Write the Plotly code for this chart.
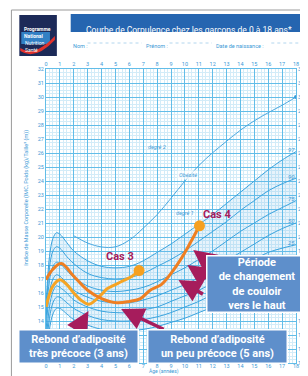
import plotly.graph_objects as go

# ---------------- data ----------------
ages = [0, 0.25, 0.5, 0.75, 1, 1.5, 2, 3, 4, 5, 6, 7, 8, 9, 10, 11, 12, 13, 14, 15, 16, 17, 18]
p3  = [10.9, 13.4, 14.5, 14.9, 14.9, 14.5, 14.1, 13.7, 13.4, 13.3, 13.3, 13.4, 13.6, 13.9, 14.2, 14.6, 15.0, 15.5, 16.0, 16.4, 16.8, 17.0, 17.2]
p10 = [11.6, 14.2, 15.3, 15.7, 15.7, 15.3, 14.9, 14.4, 14.1, 14.0, 14.0, 14.1, 14.3, 14.6, 15.0, 15.4, 15.9, 16.4, 16.9, 17.4, 17.8, 18.1, 18.3]
p25 = [12.3, 15.0, 16.1, 16.5, 16.4, 16.0, 15.5, 15.0, 14.7, 14.6, 14.6, 14.8, 15.0, 15.4, 15.8, 16.2, 16.7, 17.3, 17.9, 18.4, 18.9, 19.2, 19.45]
p50 = [13.2, 16.0, 17.0, 17.3, 17.2, 16.7, 16.2, 15.7, 15.4, 15.3, 15.3, 15.5, 15.8, 16.2, 16.6, 17.1, 17.7, 18.3, 18.9, 19.5, 20.1, 20.6, 21.0]
p75 = [14.0, 16.9, 17.9, 18.2, 18.1, 17.6, 17.1, 16.5, 16.2, 16.1, 16.2, 16.4, 16.8, 17.3, 17.8, 18.4, 19.0, 19.7, 20.4, 21.0, 21.6, 22.1, 22.6]
p90 = [14.5, 17.8, 19.0, 19.3, 19.2, 18.6, 18.1, 17.4, 17.1, 17.0, 17.1, 17.4, 17.9, 18.4, 19.0, 19.7, 20.4, 21.1, 21.9, 22.6, 23.3, 23.8, 24.2]
p97 = [15.0, 18.6, 19.9, 20.3, 20.2, 19.6, 19.0, 18.3, 17.9, 17.8, 17.9, 18.3, 18.9, 19.5, 20.2, 20.9, 21.6, 22.4, 23.2, 24.0, 24.8, 25.5, 26.1]
percentile_names = ["3", "10", "25", "50", "75", "90", "97"]

iotf_ages = [2, 3, 4, 5, 6, 7, 8, 9, 10, 11, 12, 13, 14, 15, 16, 17, 18]
iotf30 = [20.09, 19.57, 19.29, 19.30, 19.78, 20.63, 21.60, 22.77, 24.00, 25.10, 26.02, 26.84, 27.63, 28.30, 28.88, 29.41, 30.00]

cas3_ages = [0, 0.5, 1.0, 1.5, 2, 2.5, 3.1, 4, 4.4, 5, 5.6, 6.2, 6.7]
cas3_bmi  = [15.0, 16.5, 16.95, 16.6, 16.0, 15.5, 15.2, 15.9, 16.3, 16.6, 16.9, 17.2, 17.6]
cas4_ages = [0, 0.5, 1.1, 2, 3, 4, 5.1, 6, 6.8, 7.5, 8.3, 9, 9.7, 10.4, 11.05]
cas4_bmi  = [16.95, 17.7, 18.1, 17.2, 16.2, 15.6, 15.3, 15.4, 15.6, 16.2, 16.6, 17.4, 18.4, 19.6, 20.8]

age_ticks = list(range(0, 19))
bmi_ticks = list(range(11, 33))
left_hidden = {11, 12, 13}          # covered by the first text box
right_hidden = {15, 16, 17, 18}     # covered by the right text box

# ---------------- layout geometry ----------------
W, H = 308, 376
L, R, T, B = 38, 291, 61, 355

def px(x):
    return (x - L) / (R - L)

def py(y):
    return (B - y) / (B - T)

BLUE = "#3d9ad6"
GRID = "#62bde8"
MINOR = "#d3ecf8"
CRIMSON = "#a61c5c"
BOXBLUE = "#5e8fcb"

fig = go.Figure()

# percentile bands
series = [p3, p10, p25, p50, p75, p90, p97]
for i, (name, vals) in enumerate(zip(percentile_names, series)):
    fig.add_trace(go.Scatter(
        x=ages, y=vals, mode="lines", line=dict(color="#3aa3de", width=1.0, shape="spline"),
        fill=None if i == 0 else "tonexty", fillcolor="rgba(110,185,232,0.17)",
        hoverinfo="skip", showlegend=False))

fig.add_trace(go.Scatter(x=iotf_ages, y=iotf30, mode="lines",
                         line=dict(color="#4aa8e0", width=1.0, shape="spline"),
                         showlegend=False, hoverinfo="skip"))
fig.add_trace(go.Scatter(x=[iotf_ages[-1]], y=[iotf30[-1]], mode="markers",
                         marker=dict(color="#3a9ad9", size=4), showlegend=False))

# case curves
fig.add_trace(go.Scatter(x=cas3_ages, y=cas3_bmi, mode="lines",
                         line=dict(color="#f6a424", width=3, shape="spline"), showlegend=False))
fig.add_trace(go.Scatter(x=cas4_ages, y=cas4_bmi, mode="lines",
                         line=dict(color="#ef7f22", width=3, shape="spline"), showlegend=False))
fig.add_trace(go.Scatter(x=[cas3_ages[-1], cas4_ages[-1]], y=[cas3_bmi[-1], cas4_bmi[-1]],
                         mode="markers", marker=dict(color="#f6a020", size=11), showlegend=False))

# top / right duplicate axes for tick labels
fig.add_trace(go.Scatter(x=[0, 18], y=[11, 32], xaxis="x2", yaxis="y2", mode="markers",
                         marker=dict(opacity=0), showlegend=False, hoverinfo="skip"))

tickfont = dict(size=5.5, color=BLUE, family="Roboto")
fig.update_layout(
    width=W, height=H, margin=dict(l=L, r=W - R, t=T, b=H - B),
    paper_bgcolor="white", plot_bgcolor="white",
    xaxis=dict(range=[0, 18], tickvals=age_ticks, ticktext=[str(a) for a in age_ticks],
               showgrid=True, gridcolor=GRID, gridwidth=1, zeroline=False,
               minor=dict(dtick=0.25, showgrid=True, gridcolor=MINOR, gridwidth=0.6),
               tickfont=tickfont, ticks="", showline=True, linecolor=GRID, mirror=True,
               ticklabelstandoff=-3),
    yaxis=dict(range=[11, 32], tickvals=bmi_ticks,
               ticktext=["" if b in left_hidden else str(b) for b in bmi_ticks],
               showgrid=True, gridcolor=GRID, gridwidth=1, zeroline=False,
               minor=dict(dtick=0.25, showgrid=True, gridcolor=MINOR, gridwidth=0.6),
               tickfont=tickfont, ticks="", showline=True, linecolor=GRID, mirror=True),
    xaxis2=dict(range=[0, 18], overlaying="x", side="top", tickvals=age_ticks,
                ticktext=[str(a) for a in age_ticks], showgrid=False, zeroline=False,
                tickfont=tickfont, ticks="", ticklabelstandoff=1),
    yaxis2=dict(range=[11, 32], overlaying="y", side="right", tickvals=bmi_ticks,
                ticktext=["" if b in right_hidden else str(b) for b in bmi_ticks],
                showgrid=False, zeroline=False, tickfont=tickfont, ticks="", ticklabelstandoff=1),
    showlegend=False,
)

shapes = []
ann = []

# sheet border and gray band at bottom
shapes.append(dict(type="rect", xref="paper", yref="paper", x0=px(0), x1=px(W), y0=py(376), y1=py(374),
                   fillcolor="#e6e6e6", line=dict(width=0), layer="below"))
shapes.append(dict(type="rect", xref="paper", yref="paper", x0=px(3), x1=px(306), y0=py(374), y1=py(2),
                   fillcolor="rgba(0,0,0,0)", line=dict(color="#9a9a9a", width=1)))

# header title bar
shapes.append(dict(type="rect", xref="paper", yref="paper", x0=px(63), x1=px(299), y0=py(24), y1=py(6),
                   fillcolor="#2565b0", line=dict(width=0)))
ann.append(dict(text="Courbe de Corpulence chez les garçons de 0 à 18 ans*", xref="paper", yref="paper",
                x=px(183), y=py(15), showarrow=False, font=dict(size=8.5, color="white", family="Roboto")))
# name line
for label, x0 in [("Nom :", 63), ("Prénom :", 137), ("Date de naissance :", 208)]:
    ann.append(dict(text=label, xref="paper", yref="paper", x=px(x0), y=py(33), xanchor="left",
                    showarrow=False, font=dict(size=5.5, color=BLUE, family="Roboto")))
for x0, x1 in [(80, 135), (163, 206), (266, 300)]:
    shapes.append(dict(type="line", xref="paper", yref="paper", x0=px(x0), x1=px(x1), y0=py(35), y1=py(35),
                       line=dict(color="#9fcbea", width=0.8, dash="dot")))

# logo
shapes.append(dict(type="rect", xref="paper", yref="paper", x0=px(11), x1=px(49), y0=py(48), y1=py(7),
                   fillcolor="#1c2a58", line=dict(width=0)))
shapes.append(dict(type="rect", xref="paper", yref="paper", x0=px(13), x1=px(42), y0=py(36), y1=py(24),
                   fillcolor="#3280c4", line=dict(width=0)))
shapes.append(dict(type="path", xref="paper", yref="paper",
                   path=f"M {px(12)},{py(40)} Q {px(26)},{py(50)} {px(47)},{py(28)} L {px(47)},{py(32)} Q {px(27)},{py(53)} {px(12)},{py(43)} Z",
                   fillcolor="#e1322c", line=dict(width=0)))
ann.append(dict(text="<b>Programme<br>National</b>", xref="paper", yref="paper", x=px(14), y=py(16), xanchor="left",
                showarrow=False, align="left", font=dict(size=5, color="white", family="Roboto")))
ann.append(dict(text="Nutrition<br>Santé", xref="paper", yref="paper", x=px(15), y=py(30), xanchor="left",
                showarrow=False, align="left", font=dict(size=5, color="white", family="Roboto")))

# axis titles
ann.append(dict(text="Indice de Masse Corporelle (IMC, Poids (kg)/Taille² (m))", xref="paper", yref="paper",
                x=px(12), y=py(190), textangle=-90, showarrow=False,
                font=dict(size=5.5, color=BLUE, family="Roboto")))
ann.append(dict(text="Âge (années)", xref="paper", yref="paper", x=px(157), y=py(369.5), showarrow=False,
                font=dict(size=5, color=BLUE, family="Roboto")))

# curve labels
for name, vals in zip(percentile_names, series):
    if name in ("25", "50", "75", "90", "97"):
        ann.append(dict(text=f"<i>{name}</i>", x=17.7, y=vals[-1] + 0.15, showarrow=False,
                        font=dict(size=6, color=BLUE, family="Roboto")))
ann.append(dict(text="<i>degré 2</i>", x=8.0, y=26.4, showarrow=False, font=dict(size=5.5, color=BLUE, family="Roboto")))
ann.append(dict(text="<i>Obésité</i>", x=10.25, y=24.45, showarrow=False, bgcolor="rgba(255,255,255,0.7)",
                font=dict(size=5.5, color=BLUE, family="Roboto")))
ann.append(dict(text="<i>degré 1</i>", x=10.0, y=21.7, showarrow=False, font=dict(size=5.5, color=BLUE, family="Roboto")))

# case labels
ann.append(dict(text="<b>Cas 3</b>", x=5.35, y=18.6, showarrow=False, font=dict(size=11, color=CRIMSON, family="Roboto")))
ann.append(dict(text="<b>Cas 4</b>", x=12.3, y=21.6, showarrow=False, font=dict(size=11, color=CRIMSON, family="Roboto")))

# arrows
def arrow(tip, tail):
    return dict(x=px(tip[0]), y=py(tip[1]), xref="paper", yref="paper", ax=tail[0] - tip[0], ay=tail[1] - tip[1],
                axref="pixel", ayref="pixel", showarrow=True, arrowhead=2, arrowsize=1.3, arrowwidth=3.5,
                arrowcolor=CRIMSON, text="", standoff=0)

ann.append(arrow((81, 303), (70, 322)))
ann.append(arrow((114, 301), (158, 322)))
ann.append(arrow((187, 242), (208, 258)))
ann.append(arrow((181, 257), (202, 271)))
ann.append(arrow((172, 272), (198, 287)))

# text boxes
def box(text, x0, y0, x1, y1):
    return dict(text=f"<b>{text}</b>", xref="paper", yref="paper", x=px(x0), y=py(y0),
                xanchor="left", yanchor="top", width=x1 - x0 - 3, height=y1 - y0 - 3, showarrow=False,
                bgcolor=BOXBLUE, bordercolor="white", borderwidth=1.5, borderpad=0, align="center", valign="middle",
                font=dict(size=11, color="white", family="Roboto"))

ann.append(box("Rebond d’adiposité<br>très précoce (3 ans)", 10, 321, 131, 356))
ann.append(box("Rebond d’adiposité<br>un peu précoce (5 ans)", 140, 321, 281, 356))
ann.append(box("Période<br>de changement<br>de couloir<br>vers le haut", 200, 247, 302, 305))

fig.update_layout(shapes=shapes, annotations=ann)
fig.write_html("out.html")
